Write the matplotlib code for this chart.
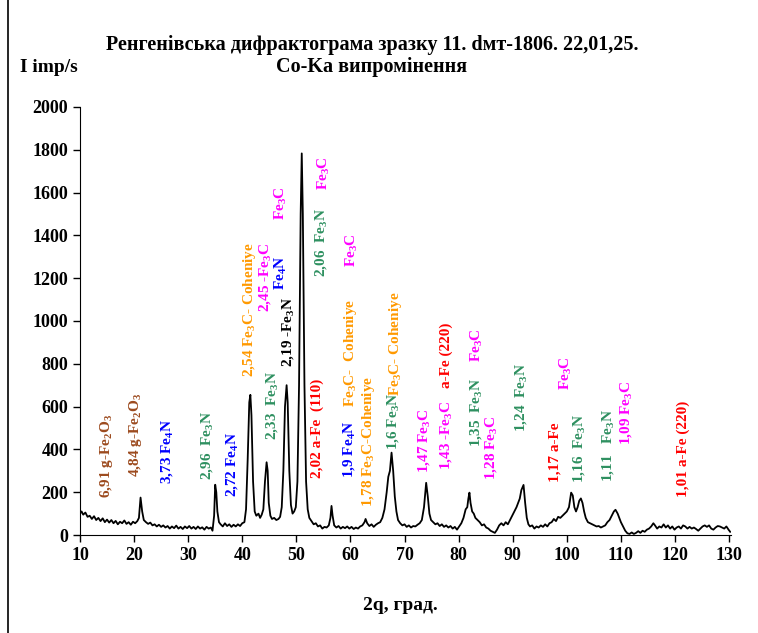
import matplotlib
matplotlib.use('Agg')
import matplotlib.pyplot as plt
from matplotlib.lines import Line2D

plt.rcParams['font.family'] = ['Liberation Serif', 'DejaVu Serif']
plt.rcParams['font.weight'] = 'bold'
plt.rcParams['mathtext.default'] = 'regular'

# 2theta, degrees
tt = [10.0, 10.3, 10.6, 11.0, 11.4, 11.8, 12.2, 12.6, 13.0, 13.4, 13.8, 14.2, 14.6, 15.0, 15.4, 15.8,
      16.2, 16.6, 17.0, 17.4, 17.8, 18.2, 18.6, 19.0, 19.4, 19.8, 20.2, 20.6, 20.9, 21.2, 21.5, 21.8,
      22.2, 22.6, 23.0, 23.4, 23.8, 24.2, 24.6, 25.0, 25.4, 25.8, 26.2, 26.6, 27.0, 27.4, 27.8, 28.2,
      28.6, 29.0, 29.4, 29.8, 30.2, 30.6, 31.0, 31.4, 31.8, 32.2, 32.6, 33.0, 33.4, 33.8, 34.2, 34.5,
      34.8, 35.0, 35.2, 35.4, 35.7, 36.0, 36.4, 36.8, 37.2, 37.6, 38.0, 38.4, 38.8, 39.2, 39.6, 40.0,
      40.4, 40.7, 41.0, 41.3, 41.5, 41.7, 42.0, 42.3, 42.6, 43.0, 43.3, 43.6, 43.9, 44.2, 44.5, 44.7,
      44.9, 45.2, 45.5, 45.9, 46.3, 46.7, 47.0, 47.3, 47.6, 47.9, 48.2, 48.4, 48.7, 49.0, 49.3, 49.6,
      49.9, 50.2, 50.5, 50.8, 51.0, 51.2, 51.5, 51.8, 52.1, 52.4, 52.8, 53.2, 53.6, 54.0, 54.4, 54.8,
      55.2, 55.6, 56.0, 56.3, 56.5, 56.7, 57.0, 57.4, 57.8, 58.2, 58.6, 59.0, 59.4, 59.8, 60.2, 60.6,
      61.0, 61.4, 61.8, 62.2, 62.6, 62.8, 63.1, 63.5, 63.9, 64.3, 64.7, 65.1, 65.5, 65.9, 66.3, 66.7,
      67.0, 67.3, 67.6, 67.9, 68.2, 68.5, 68.8, 69.2, 69.6, 70.0, 70.4, 70.8, 71.2, 71.6, 72.0, 72.4,
      72.8, 73.2, 73.6, 74.0, 74.3, 74.6, 74.9, 75.3, 75.7, 76.1, 76.5, 76.9, 77.3, 77.7, 78.1, 78.5,
      78.9, 79.3, 79.7, 80.1, 80.5, 80.9, 81.3, 81.6, 81.8, 82.0, 82.2, 82.5, 82.8, 83.1, 83.5, 83.9,
      84.3, 84.7, 85.1, 85.5, 85.9, 86.3, 86.7, 87.1, 87.5, 87.9, 88.3, 88.7, 89.1, 89.5, 89.9, 90.3,
      90.7, 91.0, 91.3, 91.6, 92.0, 92.3, 92.6, 92.9, 93.2, 93.6, 94.0, 94.4, 94.8, 95.2, 95.6, 96.0,
      96.4, 96.8, 97.2, 97.6, 98.0, 98.4, 98.8, 99.2, 99.6, 100.0, 100.4, 100.8, 101.1, 101.4, 101.7, 102.0,
      102.3, 102.6, 102.9, 103.2, 103.5, 103.9, 104.3, 104.7, 105.1, 105.5, 105.9, 106.3, 106.7, 107.1, 107.5, 107.9,
      108.3, 108.7, 109.0, 109.4, 109.7, 110.0, 110.4, 110.8, 111.2, 111.6, 112.0, 112.4, 112.8, 113.2, 113.6, 114.0,
      114.4, 114.8, 115.2, 115.6, 116.0, 116.3, 116.7, 117.1, 117.5, 117.9, 118.3, 118.7, 119.1, 119.5, 119.9, 120.3,
      120.7, 121.1, 121.5, 121.9, 122.3, 122.7, 123.1, 123.5, 123.9, 124.3, 124.7, 125.1, 125.5, 125.9, 126.3, 126.7,
      127.1, 127.5, 127.9, 128.3, 128.7, 129.1, 129.5, 129.9, 130.2]
# intensity, imp/s
I = [100, 110, 95, 105, 85, 90, 75, 88, 70, 80, 65, 78, 60, 72, 58, 70,
     55, 66, 50, 62, 55, 68, 52, 60, 48, 62, 55, 65, 80, 175, 110, 70,
     60, 52, 58, 45, 50, 40, 48, 38, 45, 35, 42, 30, 40, 32, 44, 30,
     38, 28, 40, 32, 42, 30, 38, 28, 40, 30, 36, 25, 38, 30, 35, 20,
     90, 235, 200, 110, 60, 50, 40, 55, 42, 50, 38, 48, 40, 50, 42, 55,
     60, 120, 350, 620, 655, 560, 250, 110, 90, 100, 80, 95, 120, 250, 340, 300,
     150, 90, 75, 80, 70, 75, 85, 130, 300, 600, 700, 620, 300, 140, 100, 110,
     130, 250, 700, 1500, 1783, 1500, 700, 250, 120, 80, 65, 50, 55, 40, 45, 30,
     38, 35, 45, 80, 136, 90, 45, 35, 42, 30, 38, 32, 40, 30, 38, 28,
     35, 30, 40, 45, 60, 75, 55, 42, 50, 38, 48, 55, 60, 80, 120, 200,
     272, 300, 385, 300, 180, 110, 70, 55, 45, 50, 38, 45, 35, 42, 40, 48,
     55, 70, 130, 244, 180, 100, 70, 60, 50, 55, 42, 50, 38, 45, 35, 42,
     30, 38, 25, 40, 55, 80, 120, 130, 170, 198, 150, 110, 100, 80, 70, 60,
     45, 50, 35, 30, 20, 15, 10, 25, 45, 55, 45, 60, 50, 70, 90, 110,
     130, 150, 170, 210, 234, 150, 80, 50, 40, 45, 30, 40, 35, 45, 38, 50,
     40, 55, 60, 75, 65, 85, 80, 90, 100, 110, 130, 198, 185, 130, 110, 130,
     160, 171, 150, 110, 80, 60, 55, 50, 45, 40, 42, 35, 40, 45, 60, 70,
     90, 110, 118, 100, 80, 60, 40, 20, 8, 5, 12, 5, 10, 18, 10, 20,
     15, 25, 30, 40, 55, 45, 30, 40, 35, 50, 35, 45, 30, 40, 25, 35,
     40, 30, 45, 40, 30, 38, 30, 35, 28, 20, 30, 40, 45, 38, 45, 30,
     25, 35, 42, 40, 35, 30, 40, 25, 15]

# peak labels: text, 2theta position, bottom intensity, colour
lab_text = ['6,91 g-Fe$_2$O$_3$', '4,84 g-Fe$_2$O$_3$', '3,73 Fe$_4$N', '2,96  Fe$_3$N', '2,72 Fe$_4$N',
            '2,54 Fe$_3$C- Coheniye', '2,33  Fe$_3$N', '2,45 -Fe$_3$C', 'Fe$_4$N', '2,19 -Fe$_3$N', 'Fe$_3$C',
            '2,02 a-Fe  (110)', '2,06  Fe$_3$N', 'Fe$_3$C', 'Fe$_3$C', 'Fe$_3$C-  Coheniye', '1,9 Fe$_4$N',
            '1,78 Fe$_3$C-Coheniye', '1,6 Fe$_3$N', 'Fe$_3$C- Coheniye', '1,47 Fe$_3$C', '1,43 -Fe$_3$C',
            'a-Fe (220)', '1,35  Fe$_3$N', '1,28 Fe$_3$C', 'Fe$_3$C', '1,24  Fe$_3$N', '1,17 a-Fe',
            '1,16  Fe$_3$N', 'Fe$_3$C', '1,11   Fe$_3$N', '1,09 Fe$_3$C', '1,01 a-Fe (220)']
lab_x = [14.9, 20.3, 26.0, 33.5, 38.1, 41.3, 45.5, 44.3, 47.2, 48.5, 47.2,
         53.8, 54.6, 55.1, 60.3, 60.1, 59.7, 63.4, 67.8, 68.4, 73.6, 77.6,
         77.8, 83.3, 85.9, 83.3, 91.6, 97.9, 102.2, 99.8, 107.7, 111.0, 121.5]
lab_y = [173, 271, 238, 257, 178, 738, 444, 1042, 1145, 785, 1472,
         266, 1206, 1612, 1252, 598, 266, 131, 397, 650, 290, 304,
         687, 411, 257, 808, 481, 248, 243, 678, 248, 421, 178]
lab_color = ['#9c4a1e', '#9c4a1e', 'blue', '#2e9060', 'blue',
             '#ff9900', '#2e9060', 'magenta', 'blue', 'black', 'magenta',
             'red', '#2e9060', 'magenta', 'magenta', '#ff9900', 'blue',
             '#ff9900', '#2e9060', '#ff9900', 'magenta', 'magenta',
             'red', '#2e9060', 'magenta', 'magenta', '#2e9060', 'red',
             '#2e9060', 'magenta', '#2e9060', 'magenta', 'red']

fig = plt.figure(figsize=(7.58, 6.33), dpi=100)
ax = fig.add_axes([0.1055, 0.1548, 0.964 - 0.1055, 0.831 - 0.1548])
ax.plot(tt, I, color='black', lw=1.3)

for s, x, y, c in zip(lab_text, lab_x, lab_y, lab_color):
    ax.text(x, y, s, rotation=90, ha='center', va='bottom', color=c,
            fontsize=11, fontweight='bold')

ax.set_xlim(10, 130.3)
ax.set_ylim(0, 2000)
ax.set_xticks(range(10, 131, 10))
ax.set_yticks(range(0, 2001, 200))
for side in ['top', 'right']:
    ax.spines[side].set_visible(False)
ax.tick_params(direction='out', length=5, labelsize=13, width=1)
for lbl in ax.get_xticklabels() + ax.get_yticklabels():
    lbl.set_fontweight('bold')

fig.text(372 / 758, 1 - 45 / 633, 'Ренгенівська дифрактограма зразку 11. dмт-1806. 22,01,25.',
         ha='center', va='center', fontsize=14.5, fontweight='bold')
fig.text(372 / 758, 1 - 67 / 633, 'Co-Ka випромінення',
         ha='center', va='center', fontsize=14.5, fontweight='bold')
fig.text(20 / 758, 1 - 67 / 633, 'I imp/s', ha='left', va='center', fontsize=14, fontweight='bold')
fig.text(400 / 758, 1 - 605 / 633, '2q, град.', ha='center', va='center', fontsize=14, fontweight='bold')

fig.add_artist(Line2D([8 / 758, 8 / 758], [0, 1], color='black', lw=1.2, transform=fig.transFigure))

fig.savefig('out.png', dpi=100)
